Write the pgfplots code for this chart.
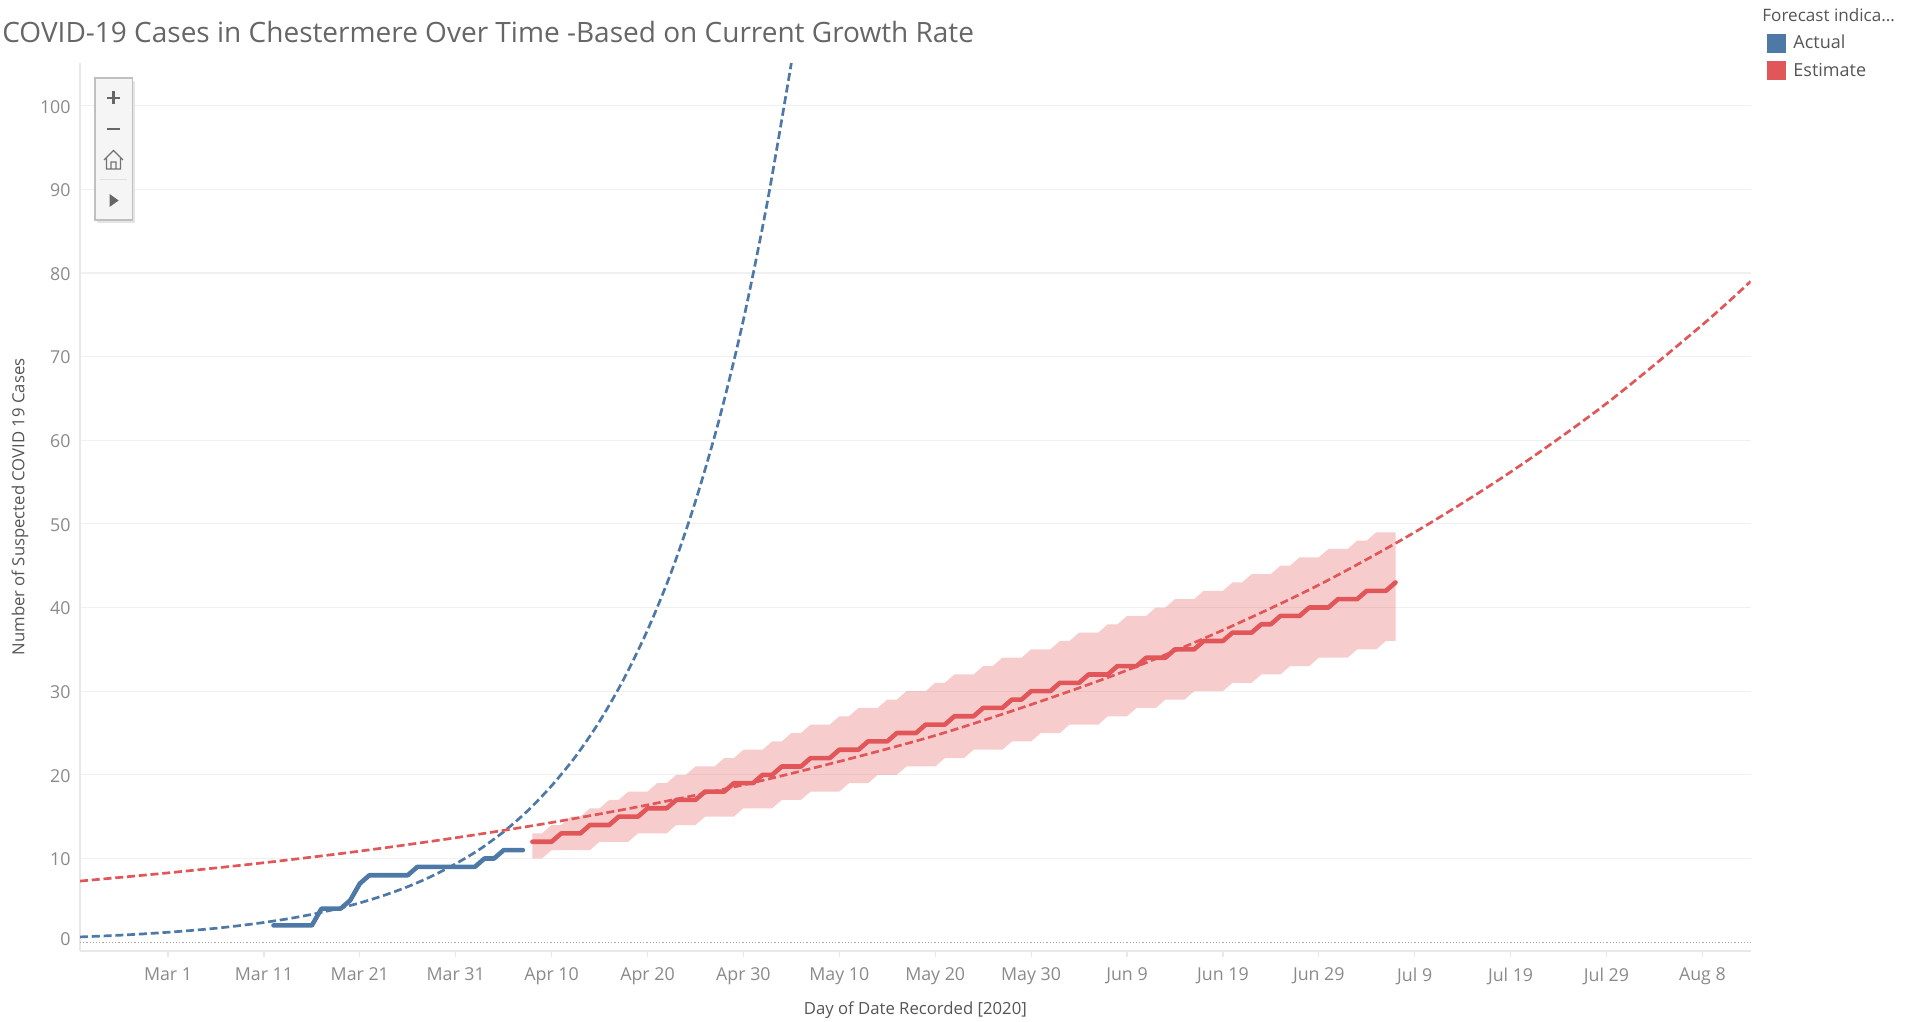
\documentclass[border=0pt]{standalone}
\usepackage{fontspec}
\setmainfont{Open Sans}
\usepackage{pgfplots}
\pgfplotsset{compat=1.18}
\definecolor{actual}{HTML}{4E79A7}
\definecolor{estim}{HTML}{E15759}
\definecolor{tickc}{HTML}{8A8A8A}
\definecolor{titlec}{HTML}{666666}
\definecolor{labc}{HTML}{555555}
\definecolor{gridc}{HTML}{F0F0F0}
\definecolor{linec}{HTML}{E8E8E8}
\begin{document}
\begin{tikzpicture}
\path[use as bounding box] (0,0) rectangle (958pt,511pt);
\begin{axis}[
  at={(40pt,35.5pt)}, anchor=south west,
  scale only axis, width=835.35pt, height=444pt,
  xmin=-9.18, xmax=165.04, ymin=-1.06, ymax=105.1,
  axis x line*=bottom, axis y line*=left,
  axis line style={draw=linec, -, line width=0.6pt},
  /pgf/number format/assume math mode=true,
  tick label style={font=\fontsize{8.9}{10}\selectfont, text=tickc},
  xticklabel style={yshift=-1.8pt},
  yticklabel style={xshift=1.8pt, yshift=-0.5pt},
  xtick={0,10,...,160},
  xticklabels={Mar 1,Mar 11,Mar 21,Mar 31,Apr 10,Apr 20,Apr 30,May 10,May 20,May 30,Jun 9,Jun 19,Jun 29,Jul 9,Jul 19,Jul 29,Aug 8},
  x tick style={draw=linec, line width=0.6pt},
  tick align=outside, major tick length=3pt,
  y tick style={draw=none},
  ytick={10,20,...,100},
  extra y ticks={0}, extra y tick labels={0},
  extra y tick style={yticklabel style={yshift=2pt}},
  extra tick style={grid style={densely dotted, draw=black!35, line width=0.5pt}},
  ymajorgrids, grid style={draw=gridc, line width=0.6pt},
  xlabel={Day of Date Recorded [2020]},
  ylabel={Number of Suspected COVID 19 Cases},
  label style={font=\fontsize{8.35}{10}\selectfont, text=labc},
  xlabel style={at={(axis description cs:0.5,-0.067)}, anchor=center},
  ylabel style={at={(axis description cs:-0.0359,0.5)}, anchor=center},
  title={COVID-19 Cases in Chestermere Over Time -Based on Current Growth Rate},
  title style={at={(axis description cs:-0.0467,1.0338)}, anchor=west, yshift=-5.5pt, font=\fontsize{14}{16}\selectfont, text=titlec, inner sep=0pt},
  legend style={at={(axis description cs:1.0096,1.0365)}, anchor=north west, draw=none, fill=none,
    font=\fontsize{9}{10}\selectfont, text=labc, cells={anchor=west}, row sep=1.6pt, inner sep=0pt},
  legend image code/.code={\fill[#1, draw=none] (0pt,-4.75pt) rectangle (9.5pt,4.75pt); \path (10pt,0pt);},
]
% uncertainty band of the estimate: upper edge, then lower edge backwards
\addplot[forget plot, draw=none, fill=estim, fill opacity=0.3] coordinates {
(38,13)(39,13)(40,14)(41,14)(42,15)(43,15)(44,16)(45,16)(46,17)(47,17)(48,18)(50,18)(51,19)(52,19)(53,20)(54,20)(55,21)(57,21)(58,22)(59,22)(60,23)(62,23)(63,24)(64,24)(65,25)(66,25)(67,26)(69,26)(70,27)(71,27)(72,28)(74,28)(75,29)(76,29)(77,30)(79,30)(80,31)(81,31)(82,32)(84,32)(85,33)(86,33)(87,34)(89,34)(90,35)(92,35)(93,36)(94,36)(95,37)(97,37)(98,38)(99,38)(100,39)(102,39)(103,40)(104,40)(105,41)(107,41)(108,42)(110,42)(111,43)(112,43)(113,44)(115,44)(116,45)(117,45)(118,46)(120,46)(121,47)(123,47)(124,48)(125,48)(126,49)(128,49)
(128,36)(127,36)(126,35)(124,35)(123,34)(120,34)(119,33)(117,33)(116,32)(114,32)(113,31)(111,31)(110,30)(107,30)(106,29)(104,29)(103,28)(101,28)(100,27)(98,27)(97,26)(94,26)(93,25)(91,25)(90,24)(88,24)(87,23)(84,23)(83,22)(81,22)(80,21)(77,21)(76,20)(74,20)(73,19)(71,19)(70,18)(67,18)(66,17)(64,17)(63,16)(60,16)(59,15)(56,15)(55,14)(53,14)(52,13)(49,13)(48,12)(45,12)(44,11)(40,11)(39,10)(38,10)
} -- cycle;
% trend lines
\addplot[forget plot, actual, line width=1.35pt, dash pattern=on 4pt off 1.9pt, smooth] coordinates {
(-9.18,0.62)(-7.5,0.70)(-5,0.83)(-2.5,0.99)(0,1.18)(2.5,1.40)(5,1.66)(7.5,1.98)(10,2.35)(12.5,2.79)(15,3.32)(17.5,3.95)(20,4.69)(22.5,5.58)(25,6.63)(27.5,7.88)(30,9.37)(32.5,11.1)(35,13.2)(37.5,15.7)(40,18.7)(42.5,22.2)(45,26.4)(47.5,31.4)(50,37.3)(52.5,44.3)(55,52.7)(57.5,62.6)(60,74.4)(62.5,88.5)(65,105.1)
};
\addplot[forget plot, estim, line width=1.35pt, dash pattern=on 4pt off 1.9pt, smooth] coordinates {
(-9.18,7.3)(0,8.28)(10,9.49)(20,10.88)(30,12.48)(40,14.3)(50,16.4)(60,18.8)(70,21.6)(80,24.7)(90,28.4)(100,32.5)(110,37.3)(120,42.7)(130,49.0)(140,56.2)(150,64.4)(160,73.8)(165.04,79)
};
% actual counts
\addplot[actual, line width=2.3pt, line join=round, line cap=round] coordinates {
(11,2)(15,2)(16,4)(18,4)(19,5)(20,7)(21,8)(25,8)(26,9)(32,9)(33,10)(34,10)(35,11)(37,11)
};
\addlegendentry{Actual}
% estimated counts
\addplot[estim, line width=2.3pt, line join=round, line cap=round] coordinates {
(38,12)(40,12)(41,13)(43,13)(44,14)(46,14)(47,15)(49,15)(50,16)(52,16)(53,17)(55,17)(56,18)(58,18)(59,19)(61,19)(62,20)(63,20)(64,21)(66,21)(67,22)(69,22)(70,23)(72,23)(73,24)(75,24)(76,25)(78,25)(79,26)(81,26)(82,27)(84,27)(85,28)(87,28)(88,29)(89,29)(90,30)(92,30)(93,31)(95,31)(96,32)(98,32)(99,33)(101,33)(102,34)(104,34)(105,35)(107,35)(108,36)(110,36)(111,37)(113,37)(114,38)(115,38)(116,39)(118,39)(119,40)(121,40)(122,41)(124,41)(125,42)(127,42)(128,43)
};
\addlegendentry{Estimate}
\end{axis}
% legend heading and map toolbar, in reference pixels
\begin{scope}[x=0.5pt, y=-0.5pt, shift={(0pt,511pt)}]
\node[anchor=west, inner sep=0pt, text=labc, font=\fontsize{8.55}{10}\selectfont] at (1762,15) {Forecast indica...};
\fill[black!10] (97,81) rectangle (135,223);
\filldraw[fill=black!4, draw=black!25, line width=0.6pt] (95,78) rectangle (132.7,220);
\draw[black!60, line width=1.1pt] (107,98) -- (120,98) (113.5,91.5) -- (113.5,104.5);
\draw[black!60, line width=1.1pt] (107,129) -- (120,129);
\draw[black!55, line width=0.6pt] (104,160) -- (113.5,150.5) -- (123,160) (106.5,158) -- (106.5,169) -- (120.5,169) -- (120.5,158) (111,169) -- (111,162) -- (116,162) -- (116,169);
\draw[black!12, line width=0.5pt] (100,180) -- (127,180);
\fill[black!60] (109.5,194) -- (118.7,200.5) -- (109.5,207) -- cycle;
\end{scope}
\end{tikzpicture}
\end{document}
